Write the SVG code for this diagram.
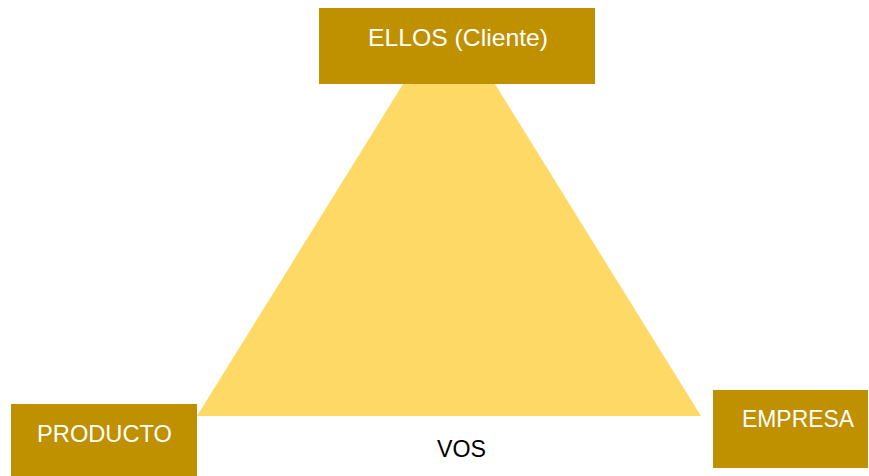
<svg xmlns="http://www.w3.org/2000/svg" width="869" height="476" viewBox="0 0 869 476">
<style>
.box{fill:#BF9000}
.lbl{font-family:"Liberation Sans",Arial,sans-serif;font-size:24px;fill:#FFFFFF;text-anchor:middle}
.dark{fill:#000000}
</style>
<rect width="869" height="476" fill="#FFFFFF"/>
<g id="triangle">
<polygon points="449,10 701,416 197,416" fill="#FFD966"/>
</g>
<g id="ellos">
<rect class="box" x="319" y="8" width="276" height="76"/>
<text class="lbl" x="458" y="46" textLength="180" lengthAdjust="spacingAndGlyphs">ELLOS (Cliente)</text>
</g>
<g id="producto">
<rect class="box" x="11" y="404" width="186" height="72"/>
<text class="lbl" x="104.5" y="442" textLength="135" lengthAdjust="spacingAndGlyphs">PRODUCTO</text>
</g>
<g id="empresa">
<rect class="box" x="713" y="390" width="155" height="78"/>
<text class="lbl" x="798" y="427" textLength="112" lengthAdjust="spacingAndGlyphs">EMPRESA</text>
</g>
<g id="vos">
<text class="lbl dark" x="461.5" y="457" textLength="49" lengthAdjust="spacingAndGlyphs">VOS</text>
</g>
<g id="connectors"></g>
</svg>
